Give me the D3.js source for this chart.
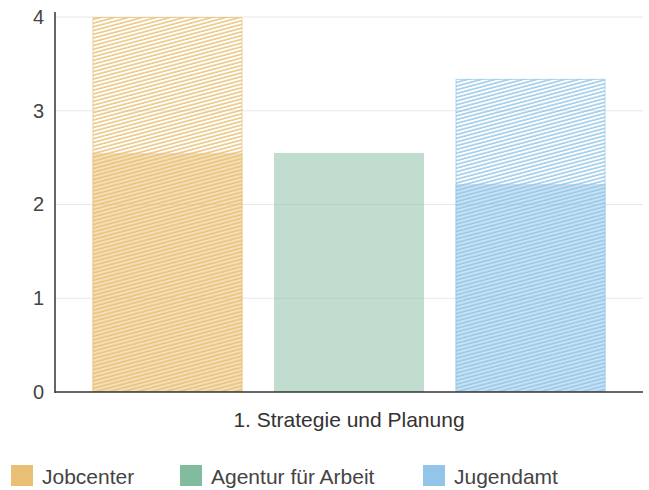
<!DOCTYPE html>
<html><head><meta charset="utf-8">
<script src="https://cdn.jsdelivr.net/npm/d3@7"></script>
<style>body{margin:0;background:#fff}svg{display:block}text{font-family:"Liberation Sans",Arial,sans-serif}</style>
</head><body><svg id="c" width="649" height="490"></svg>
<script>
const category = "1. Strategie und Planung";
const series = ["Jobcenter", "Agentur für Arbeit", "Jugendamt"];
const meanValues = [2.55, 2.55, 2.22];
const maxValues = [4.0, null, 3.34];
const yTicks = [0, 1, 2, 3, 4];
const colors = ["#E8BF74", "#82BC9F", "#92C5E8"];

const svg = d3.select("#c");
const m = {l:55, r:6, t:17, b:98};
const W = 649, H = 490;
const y = d3.scaleLinear().domain([0,4]).range([H-m.b, m.t]);
const x0 = d3.scaleBand().domain([category]).range([m.l, W-m.r]).paddingInner(0).paddingOuter(0.073);
const x1 = d3.scaleBand().domain(series).range([0, x0.bandwidth()]).paddingInner(0.1736);

const defs = svg.append("defs");
series.forEach((s,i)=>{
  const p = defs.append("pattern").attr("id","hatch"+i).attr("patternUnits","userSpaceOnUse")
    .attr("width",8).attr("height",3.6).attr("patternTransform","rotate(-15)");
  p.append("line").attr("x1",0).attr("x2",8).attr("y1",1).attr("y2",1)
    .attr("stroke",colors[i]).attr("stroke-width",1.4);
});

// grid
svg.append("g").selectAll("line").data(yTicks.slice(1)).join("line")
  .attr("x1",m.l).attr("x2",W-m.r).attr("y1",d=>y(d)).attr("y2",d=>y(d))
  .attr("stroke","#e8e8e8").attr("stroke-width",1);

const g = svg.append("g").attr("transform",`translate(${x0(category)},0)`);
series.forEach((s,i)=>{
  const bx = x1(s), bw = x1.bandwidth();
  g.append("rect").attr("x",bx).attr("width",bw).attr("y",y(meanValues[i])).attr("height",y(0)-y(meanValues[i]))
    .attr("fill",colors[i]).attr("fill-opacity",0.5);
  if (maxValues[i] != null) {
    g.append("rect").attr("x",bx+0.5).attr("width",bw-1).attr("y",y(maxValues[i])+0.5).attr("height",y(0)-y(maxValues[i])-1)
      .attr("fill",`url(#hatch${i})`).attr("stroke",colors[i]).attr("stroke-opacity",0.7).attr("stroke-width",1);
  }
});

const font = "Liberation Sans, Arial, sans-serif";
// y axis
const ya = svg.append("g").attr("transform",`translate(${m.l},0)`)
  .call(d3.axisLeft(y).tickValues(yTicks).tickSize(0).tickPadding(11).tickFormat(d3.format("d")));
ya.select(".domain").remove();
ya.selectAll("text").attr("font-size",20).attr("fill","#444").attr("font-family",font);
svg.append("line").attr("x1",m.l).attr("x2",m.l).attr("y1",12).attr("y2",y(0)+1).attr("stroke","#333").attr("stroke-width",1.5);
svg.append("line").attr("x1",m.l).attr("x2",643).attr("y1",y(0)).attr("y2",y(0)).attr("stroke","#333").attr("stroke-width",1.5);

// x label
const xa = svg.append("g").attr("transform",`translate(0,${y(0)})`).call(d3.axisBottom(x0).tickSize(0).tickPadding(20));
xa.select(".domain").remove();
xa.selectAll("text").attr("font-size",21).attr("fill","#333").attr("font-family",font);

// legend
const legX = [11, 180, 423];
const lg = svg.append("g");
series.forEach((s,i)=>{
  lg.append("rect").attr("x",legX[i]).attr("y",465).attr("width",22).attr("height",21).attr("fill",colors[i]);
  lg.append("text").attr("x",legX[i]+31).attr("y",484).attr("font-size",21).attr("fill","#444").attr("font-family",font).text(s);
});
</script></body></html>
